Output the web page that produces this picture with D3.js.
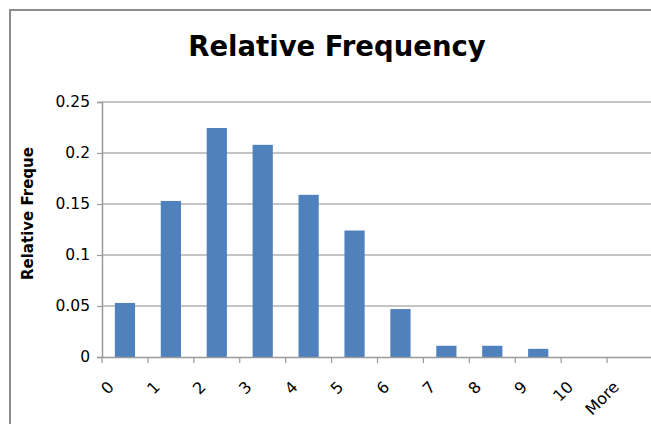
<!DOCTYPE html>
<html>
<head>
<meta charset="utf-8">
<script src="https://cdn.jsdelivr.net/npm/d3@7"></script>
<style>
    body { margin: 0; background: #fff; }
    svg { display: block; }
</style>
</head>
<body>
<div id="chart"></div>
<script>
// values
const categories = ["0", "1", "2", "3", "4", "5", "6", "7", "8", "9", "10", "More"];
const relFreq = [0.053, 0.153, 0.2245, 0.208, 0.159, 0.124, 0.047, 0.011, 0.011, 0.008, 0, 0];
const yTicks = [0, 0.05, 0.1, 0.15, 0.2, 0.25];
const titleText = "Relative Frequency";
const yTitle = "Relative Freque";

const W = 651, H = 426;
const plot = { left: 102, top: 102, right: 653, bottom: 357 };

const svg = d3.select("#chart").append("svg")
    .attr("width", W)
    .attr("height", H);

// chart frame (only top and left edges are inside the picture)
svg.append("path")
    .attr("d", `M10,424V10H${W + 5}`)
    .attr("fill", "none")
    .attr("stroke", "#8c8c8c")
    .attr("stroke-width", 2);

const x = d3.scaleBand()
    .domain(categories)
    .range([plot.left, plot.right])
    .paddingInner(0.56)
    .paddingOuter(0.28);

const y = d3.scaleLinear()
    .domain([0, 0.25])
    .range([plot.bottom, plot.top]);

// gridlines
svg.append("g")
    .selectAll("line")
    .data(yTicks.filter(d => d > 0))
    .join("line")
    .attr("x1", plot.left)
    .attr("x2", W)
    .attr("y1", d => y(d))
    .attr("y2", d => y(d))
    .attr("stroke", "#b2b2b2")
    .attr("stroke-width", 1.6);

// bars
svg.append("g")
    .selectAll("rect")
    .data(categories.map((c, i) => ({ c: c, v: relFreq[i] })))
    .join("rect")
    .attr("x", d => x(d.c))
    .attr("y", d => y(d.v))
    .attr("width", x.bandwidth())
    .attr("height", d => y(0) - y(d.v))
    .attr("fill", "#4f81bd");

// y axis
const yAxis = d3.axisLeft(y)
    .tickValues(yTicks)
    .tickSize(5)
    .tickPadding(7)
    .tickFormat(d => d3.format("")(+d.toFixed(2)));

const gy = svg.append("g")
    .attr("transform", `translate(${plot.left},0)`)
    .call(yAxis);
gy.select(".domain").attr("stroke", "#9a9a9a").attr("stroke-width", 1.5);
gy.selectAll(".tick line").attr("stroke", "#9a9a9a").attr("stroke-width", 1.2);
gy.selectAll(".tick text")
    .attr("fill", "#000")
    .style("font-family", "'DejaVu Sans', Verdana, sans-serif")
    .style("font-size", "15.5px");

// x axis: ticks sit on category boundaries
const step = x.step();
const gx = svg.append("g")
    .attr("transform", `translate(0,${plot.bottom})`)
    .call(d3.axisBottom(x).tickSize(0).tickPadding(0));
gx.select(".domain").attr("d", `M${plot.left},0.5H${W}`).attr("stroke", "#9a9a9a").attr("stroke-width", 1.5);
gx.selectAll(".tick").append("line")
    .attr("x1", -step / 2)
    .attr("x2", -step / 2)
    .attr("y1", 0)
    .attr("y2", 6)
    .attr("stroke", "#9a9a9a")
    .attr("stroke-width", 1.2);
gx.selectAll(".tick text")
    .attr("fill", "#000")
    .attr("text-anchor", "end")
    .attr("dy", null)
    .attr("y", null)
    .attr("transform", "translate(-10,31) rotate(-45)")
    .style("font-family", "'DejaVu Sans', Verdana, sans-serif")
    .style("font-size", "16px");

// titles
svg.append("text")
    .attr("x", 337)
    .attr("y", 56)
    .attr("text-anchor", "middle")
    .style("font-family", "'DejaVu Sans', Verdana, sans-serif")
    .style("font-weight", "bold")
    .style("font-size", "27.5px")
    .text(titleText);

svg.append("text")
    .attr("transform", "translate(33,280) rotate(-90)")
    .attr("text-anchor", "start")
    .style("font-family", "'DejaVu Sans', Verdana, sans-serif")
    .style("font-weight", "bold")
    .style("font-size", "15px")
    .text(yTitle);
</script>
</body>
</html>
